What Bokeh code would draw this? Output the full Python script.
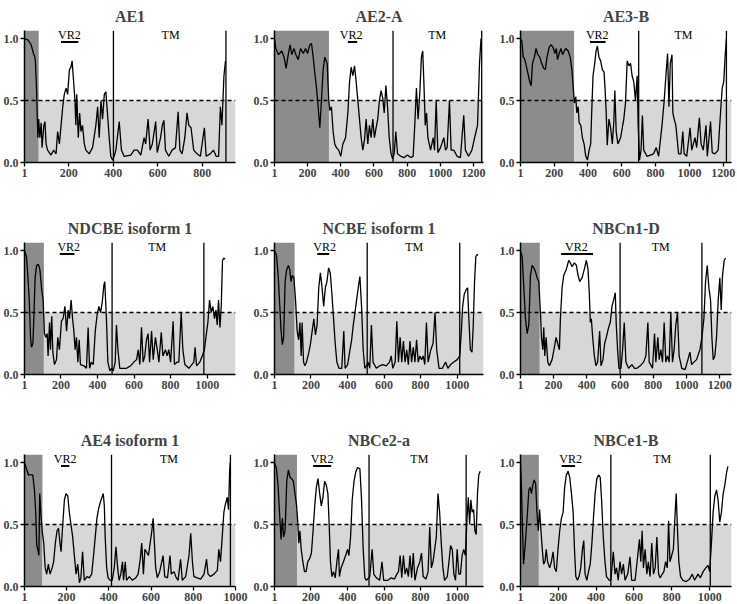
from bokeh.plotting import figure
from bokeh.layouts import column, row
from bokeh.models import Range1d, FixedTicker
from bokeh.embed import file_html
from bokeh.resources import INLINE
from bokeh.core.properties import value

# ---------------- data ----------------
titles = ["AE1", "AE2-A", "AE3-B", "NDCBE isoform 1", "NCBE isoform 1", "NBCn1-D",
          "AE4 isoform 1", "NBCe2-a", "NBCe1-B"]
x_max = [950, 1260, 1249, 1155, 1144, 1270, 1000, 1144, 1115]
nterm_end = [65, 329, 318, 107, 111, 117, 86, 124, 98]
tm_start = [401, 715, 700, 480, 508, 600, 413, 518, 478]
tm_end = [907, 1249, 1219, 982, 1014, 1092, 976, 1049, 1003]
vr2_start = [165, 443, 412, 194, 235, 245, 174, 212, 218]
vr2_end = [243, 499, 504, 274, 300, 437, 213, 311, 289]
vr2_label_x = [203, 463, 455, 243, 275, 337, 193, 261, 266]
tm_label_x = [658, 981, 965, 727, 765, 844, 685, 793, 749]
x_ticks = [
    [1, 200, 400, 600, 800],
    [1, 200, 400, 600, 800, 1000, 1200],
    [1, 200, 400, 600, 800, 1000, 1200],
    [1, 200, 400, 600, 800, 1000],
    [1, 200, 400, 600, 800, 1000],
    [1, 200, 400, 600, 800, 1000, 1200],
    [1, 200, 400, 600, 800, 1000],
    [1, 200, 400, 600, 800, 1000],
    [1, 200, 400, 600, 800, 1000],
]
y_ticks = [0, 0.5, 1.0]
threshold = 0.5

ae1_pos = [1, 16, 31, 41, 46, 50, 55, 58, 61, 65, 70, 76, 80, 88, 93, 98, 105, 120, 132, 143, 150, 158,
           173, 180, 188, 195, 203, 210, 215, 220, 228, 232, 236, 243, 249, 255, 262, 270, 277, 292, 307,
           322, 330, 337, 345, 352, 360, 367, 374, 382, 389, 397, 404, 412, 427, 437, 449, 479, 494, 509,
           524, 539, 546, 557, 566, 576, 591, 598, 613, 621, 628, 635, 650, 665, 680, 692, 700, 710, 722,
           732, 740, 750, 762, 777, 792, 810, 818, 836, 851, 863, 874, 882, 889, 898, 905]
ae1_val = [1.0, 0.99, 0.95, 0.88, 0.86, 0.82, 0.6, 0.4, 0.2, 0.35, 0.2, 0.32, 0.12, 0.3, 0.33, 0.15, 0.1,
           0.06, 0.1, 0.07, 0.25, 0.15, 0.45, 0.55, 0.6, 0.55, 0.75, 0.77, 0.82, 0.7, 0.5, 0.3, 0.55, 0.2,
           0.4, 0.25, 0.3, 0.15, 0.1, 0.07, 0.12, 0.3, 0.45, 0.2, 0.5, 0.35, 0.55, 0.57, 0.4, 0.2, 0.05,
           0.02, 0.05, 0.1, 0.33, 0.1, 0.05, 0.06, 0.1, 0.1, 0.06, 0.2, 0.15, 0.35, 0.1, 0.15, 0.33, 0.08,
           0.2, 0.3, 0.34, 0.1, 0.05, 0.1, 0.12, 0.41, 0.1, 0.07, 0.2, 0.4, 0.3, 0.28, 0.1, 0.07, 0.05,
           0.28, 0.05, 0.07, 0.1, 0.05, 0.05, 0.45, 0.3, 0.7, 0.82]

ae2_pos = [1, 9, 25, 45, 59, 71, 85, 95, 105, 118, 130, 144, 158, 174, 188, 200, 214, 224, 234, 244, 254,
           264, 274, 284, 294, 304, 318, 328, 334, 344, 354, 364, 374, 388, 400, 413, 429, 443, 453, 463,
           473, 483, 493, 503, 513, 523, 533, 543, 553, 563, 573, 583, 593, 603, 613, 623, 633, 643, 653,
           662, 672, 682, 692, 702, 712, 722, 732, 742, 762, 782, 802, 822, 836, 846, 856, 866, 876, 886,
           894, 902, 909, 917, 925, 941, 957, 965, 975, 985, 1001, 1021, 1031, 1041, 1055, 1065, 1081,
           1101, 1121, 1141, 1151, 1170, 1190, 1210, 1224, 1236, 1245]
ae2_val = [1.0, 0.92, 0.87, 0.9, 0.85, 0.76, 0.88, 0.95, 0.87, 0.92, 0.87, 0.83, 0.92, 0.88, 0.92, 0.88,
           0.95, 0.96, 0.85, 0.72, 0.6, 0.45, 0.28, 0.5, 0.75, 0.85, 0.8, 0.5, 0.42, 0.45, 0.25, 0.15, 0.12,
           0.1, 0.05, 0.15, 0.2, 0.4, 0.65, 0.77, 0.7, 0.78, 0.65, 0.5, 0.35, 0.2, 0.1, 0.18, 0.35, 0.15,
           0.3, 0.2, 0.35, 0.2, 0.28, 0.35, 0.5, 0.58, 0.52, 0.4, 0.62, 0.45, 0.2, 0.08, 0.03, 0.07, 0.25,
           0.07, 0.05, 0.04, 0.06, 0.04, 0.05, 0.3, 0.6, 0.35, 0.55, 0.85, 0.9, 0.6, 0.3, 0.4, 0.2, 0.1,
           0.2, 0.1, 0.5, 0.08, 0.12, 0.2, 0.1, 0.12, 0.5, 0.1, 0.1, 0.05, 0.04, 0.38, 0.1, 0.05, 0.1,
           0.22, 0.3, 0.8, 1.0]

ae3_pos = [1, 9, 17, 24, 32, 40, 48, 56, 64, 72, 83, 93, 103, 115, 126, 138, 148, 158, 171, 181, 193, 205,
           213, 220, 230, 240, 250, 260, 269, 283, 295, 305, 313, 320, 328, 334, 342, 348, 358, 367, 377,
           387, 397, 407, 416, 422, 430, 440, 448, 456, 465, 475, 485, 495, 501, 508, 514, 524, 534, 544,
           553, 559, 567, 577, 593, 612, 622, 632, 642, 652, 661, 671, 681, 691, 697, 705, 714, 722, 730,
           749, 769, 788, 804, 818, 838, 851, 861, 871, 879, 887, 897, 902, 910, 920, 936, 950, 961, 969,
           984, 1004, 1014, 1033, 1043, 1059, 1069, 1082, 1098, 1106, 1125, 1135, 1151, 1170, 1184, 1194,
           1203, 1211, 1219]
ae3_val = [1.0, 0.98, 0.85, 0.84, 0.8, 0.75, 0.7, 0.65, 0.62, 0.8, 0.85, 0.92, 0.87, 0.85, 0.8, 0.76, 0.75,
           0.85, 0.93, 0.95, 0.93, 0.88, 0.92, 0.83, 0.88, 0.92, 0.87, 0.9, 0.92, 0.9, 0.85, 0.75, 0.6,
           0.48, 0.53, 0.4, 0.45, 0.32, 0.3, 0.2, 0.15, 0.05, 0.02, 0.1, 0.15, 0.4, 0.7, 0.8, 0.9, 0.94,
           0.85, 0.82, 0.75, 0.73, 0.6, 0.4, 0.14, 0.35, 0.28, 0.15, 0.33, 0.58, 0.25, 0.15, 0.2, 0.35, 0.48,
           0.82, 0.78, 0.8, 0.7, 0.65, 0.5, 0.7, 0.3, 0.02, 0.1, 0.38, 0.1, 0.05, 0.06, 0.07, 0.12, 0.05,
           0.3, 0.5, 0.7, 0.88, 0.45, 0.8, 0.87, 0.4, 0.35, 0.3, 0.07, 0.07, 0.25, 0.07, 0.05, 0.28, 0.1,
           0.2, 0.12, 0.36, 0.15, 0.1, 0.3, 0.05, 0.33, 0.08, 0.07, 0.1, 0.4, 0.6, 0.65, 0.85, 1.0]

ndcbe_pos = [1, 12, 19, 27, 34, 39, 47, 52, 59, 67, 76, 85, 94, 103, 110, 118, 125, 130, 138, 143, 150, 156,
             165, 176, 183, 192, 203, 212, 222, 231, 240, 247, 256, 264, 271, 278, 285, 293, 300, 307, 326,
             340, 349, 357, 366, 377, 388, 398, 408, 417, 426, 435, 440, 449, 457, 468, 477, 486, 497, 504,
             512, 522, 541, 559, 581, 599, 614, 623, 632, 641, 650, 659, 668, 677, 685, 696, 705, 717, 727,
             736, 749, 758, 772, 781, 790, 800, 814, 821, 836, 845, 858, 867, 878, 900, 927, 934, 942, 960,
             973, 985, 995, 1004, 1013, 1022, 1031, 1040, 1048, 1055, 1062, 1070, 1077, 1084, 1091, 1097]
ndcbe_val = [1.0, 0.95, 0.8, 0.6, 0.3, 0.22, 0.25, 0.45, 0.78, 0.88, 0.89, 0.85, 0.7, 0.6, 0.33, 0.3, 0.33,
             0.15, 0.42, 0.2, 0.47, 0.18, 0.08, 0.12, 0.3, 0.2, 0.43, 0.45, 0.55, 0.35, 0.52, 0.45, 0.6,
             0.45, 0.35, 0.2, 0.3, 0.1, 0.28, 0.08, 0.07, 0.05, 0.38, 0.05, 0.1, 0.08, 0.35, 0.48, 0.55, 0.5,
             0.58, 0.72, 0.75, 0.45, 0.1, 0.03, 0.05, 0.03, 0.1, 0.4, 0.2, 0.05, 0.05, 0.05, 0.07, 0.1, 0.12,
             0.2, 0.08, 0.38, 0.1, 0.15, 0.28, 0.33, 0.1, 0.35, 0.12, 0.3, 0.2, 0.1, 0.34, 0.15, 0.2, 0.15,
             0.2, 0.1, 0.43, 0.08, 0.1, 0.1, 0.5, 0.2, 0.08, 0.05, 0.1, 0.22, 0.07, 0.1, 0.15, 0.2, 0.32,
             0.42, 0.6, 0.5, 0.55, 0.45, 0.52, 0.4, 0.6, 0.38, 0.55, 0.92, 0.94, 0.93]

ncbe_pos = [1, 12, 21, 30, 37, 44, 51, 59, 68, 77, 84, 91, 98, 107, 116, 125, 133, 140, 147, 152, 160, 167,
            176, 189, 198, 207, 216, 225, 234, 243, 252, 261, 270, 279, 288, 297, 306, 315, 324, 333, 342,
            354, 369, 380, 387, 401, 414, 423, 432, 441, 450, 459, 468, 477, 486, 495, 504, 513, 522, 531,
            540, 558, 576, 594, 612, 630, 639, 648, 661, 670, 679, 688, 697, 706, 715, 724, 733, 742, 751,
            760, 769, 778, 787, 796, 805, 814, 823, 832, 841, 856, 868, 879, 888, 901, 919, 937, 949, 964,
            982, 1000, 1014, 1023, 1030, 1039, 1048, 1057, 1064, 1072, 1081, 1088, 1095, 1102, 1110, 1113]
ncbe_val = [1.0, 0.96, 0.8, 0.55, 0.35, 0.24, 0.3, 0.75, 0.85, 0.88, 0.85, 0.75, 0.8, 0.78, 0.6, 0.35, 0.28,
            0.42, 0.15, 0.42, 0.1, 0.07, 0.1, 0.18, 0.25, 0.35, 0.45, 0.32, 0.4, 0.7, 0.82, 0.7, 0.55, 0.7,
            0.75, 0.86, 0.82, 0.65, 0.45, 0.25, 0.1, 0.05, 0.05, 0.35, 0.05, 0.08, 0.2, 0.28, 0.4, 0.5, 0.6,
            0.7, 0.79, 0.55, 0.2, 0.05, 0.07, 0.1, 0.05, 0.4, 0.1, 0.05, 0.07, 0.08, 0.07, 0.1, 0.15, 0.05,
            0.1, 0.43, 0.1, 0.3, 0.1, 0.27, 0.1, 0.2, 0.08, 0.27, 0.1, 0.22, 0.1, 0.28, 0.1, 0.15, 0.12,
            0.15, 0.08, 0.42, 0.1, 0.2, 0.25, 0.5, 0.2, 0.05, 0.05, 0.1, 0.05, 0.08, 0.1, 0.12, 0.15, 0.35,
            0.55, 0.65, 0.68, 0.7, 0.45, 0.2, 0.18, 0.4, 0.75, 0.95, 0.97, 0.96]

nbcn1_pos = [1, 11, 21, 31, 41, 51, 61, 71, 81, 91, 101, 111, 121, 127, 135, 141, 147, 155, 165, 175, 191,
             205, 215, 225, 235, 241, 251, 261, 277, 291, 301, 311, 325, 337, 347, 357, 371, 385, 397, 407,
             415, 421, 427, 435, 445, 455, 465, 477, 485, 497, 507, 517, 531, 541, 551, 561, 571, 577, 585,
             593, 605, 615, 625, 635, 651, 671, 687, 701, 721, 741, 755, 767, 775, 795, 807, 815, 827, 835,
             845, 855, 865, 875, 885, 895, 905, 915, 925, 935, 945, 955, 971, 991, 1004, 1020, 1030, 1044,
             1060, 1080, 1092, 1104, 1114, 1124, 1134, 1144, 1152, 1160, 1170, 1180, 1190, 1200, 1208, 1216,
             1226, 1234]
nbcn1_val = [1.0, 0.95, 0.7, 0.45, 0.33, 0.4, 0.8, 0.88, 0.86, 0.83, 0.78, 0.75, 0.5, 0.3, 0.2, 0.38, 0.15,
             0.3, 0.1, 0.07, 0.12, 0.22, 0.3, 0.25, 0.2, 0.45, 0.7, 0.8, 0.85, 0.92, 0.9, 0.87, 0.9, 0.88,
             0.8, 0.75, 0.78, 0.85, 0.92, 0.85, 0.65, 0.42, 0.45, 0.3, 0.15, 0.07, 0.1, 0.35, 0.07, 0.12,
             0.25, 0.3, 0.38, 0.42, 0.55, 0.6, 0.66, 0.4, 0.2, 0.05, 0.05, 0.2, 0.42, 0.1, 0.05, 0.08, 0.05,
             0.05, 0.07, 0.1, 0.15, 0.42, 0.1, 0.05, 0.33, 0.1, 0.3, 0.12, 0.2, 0.1, 0.42, 0.1, 0.15, 0.1,
             0.5, 0.1, 0.2, 0.4, 0.5, 0.15, 0.05, 0.04, 0.1, 0.18, 0.08, 0.1, 0.12, 0.2, 0.3, 0.45, 0.75,
             0.88, 0.7, 0.6, 0.3, 0.12, 0.15, 0.3, 0.6, 0.78, 0.52, 0.8, 0.92, 0.94]

ae4_pos = [1, 10, 20, 29, 40, 48, 54, 59, 64, 69, 73, 80, 86, 92, 99, 106, 114, 122, 132, 139, 147, 155, 162,
           169, 174, 182, 190, 198, 206, 213, 221, 229, 237, 245, 253, 261, 268, 276, 284, 297, 308, 319, 328,
           336, 344, 352, 360, 368, 374, 379, 383, 390, 397, 407, 416, 426, 434, 442, 449, 457, 465, 470,
           478, 484, 497, 512, 528, 539, 549, 556, 564, 571, 578, 588, 596, 604, 610, 616, 622, 630, 641,
           651, 657, 665, 678, 690, 696, 709, 717, 728, 740, 748, 764, 780, 788, 796, 803, 819, 835, 851,
           863, 870, 882, 898, 914, 921, 929, 937, 945, 953, 961, 967, 972, 975]
ae4_val = [1.0, 0.95, 0.9, 0.9, 0.9, 0.78, 0.6, 0.33, 0.3, 0.25, 0.75, 0.55, 0.43, 0.35, 0.15, 0.1, 0.18, 0.1,
           0.15, 0.2, 0.35, 0.45, 0.47, 0.35, 0.28, 0.5, 0.7, 0.75, 0.73, 0.6, 0.5, 0.4, 0.25, 0.1, 0.18,
           0.03, 0.07, 0.28, 0.05, 0.08, 0.07, 0.1, 0.25, 0.4, 0.55, 0.63, 0.68, 0.72, 0.75, 0.65, 0.4, 0.15,
           0.07, 0.05, 0.05, 0.15, 0.32, 0.15, 0.05, 0.1, 0.2, 0.05, 0.2, 0.05, 0.08, 0.05, 0.07, 0.1, 0.22,
           0.35, 0.1, 0.3, 0.28, 0.25, 0.35, 0.45, 0.55, 0.35, 0.15, 0.07, 0.12, 0.2, 0.25, 0.08, 0.07, 0.25,
           0.1, 0.12, 0.08, 0.05, 0.22, 0.05, 0.08, 0.25, 0.43, 0.2, 0.08, 0.07, 0.06, 0.1, 0.22, 0.1, 0.08,
           0.1, 0.13, 0.3, 0.2, 0.4, 0.6, 0.67, 0.72, 0.62, 0.92, 1.0]

nbce2_pos = [1, 12, 21, 30, 37, 44, 51, 59, 68, 77, 86, 95, 104, 113, 122, 129, 134, 140, 147, 156, 165, 174,
             183, 192, 203, 212, 221, 230, 239, 248, 257, 266, 275, 284, 293, 300, 307, 315, 324, 333, 342,
             351, 356, 365, 378, 390, 401, 408, 417, 426, 436, 445, 455, 468, 477, 486, 495, 504, 522, 535,
             544, 558, 576, 589, 598, 621, 639, 657, 670, 679, 688, 697, 706, 715, 724, 733, 742, 751, 760,
             769, 783, 796, 805, 814, 829, 841, 850, 859, 868, 877, 886, 895, 904, 913, 922, 931, 946, 955,
             964, 973, 982, 991, 1000, 1009, 1018, 1027, 1036, 1045, 1054, 1061, 1068, 1075, 1082, 1090,
             1097, 1104, 1111, 1118, 1126]
nbce2_val = [1.0, 0.95, 0.8, 0.55, 0.38, 0.55, 0.4, 0.45, 0.85, 0.94, 0.88, 0.87, 0.85, 0.75, 0.65, 0.5,
             0.35, 0.45, 0.3, 0.2, 0.12, 0.12, 0.2, 0.22, 0.27, 0.45, 0.65, 0.8, 0.87, 0.75, 0.65, 0.72, 0.85,
             0.82, 0.75, 0.5, 0.2, 0.08, 0.12, 0.07, 0.2, 0.3, 0.08, 0.15, 0.2, 0.25, 0.3, 0.25, 0.4, 0.7,
             0.85, 0.92, 0.96, 0.95, 0.7, 0.3, 0.07, 0.05, 0.08, 0.3, 0.1, 0.07, 0.05, 0.2, 0.05, 0.05, 0.07,
             0.06, 0.1, 0.12, 0.25, 0.07, 0.25, 0.1, 0.15, 0.08, 0.25, 0.07, 0.27, 0.05, 0.15, 0.2, 0.27,
             0.08, 0.06, 0.12, 0.48, 0.15, 0.2, 0.3, 0.4, 0.75, 0.6, 0.35, 0.15, 0.05, 0.08, 0.2, 0.33, 0.3,
             0.1, 0.05, 0.3, 0.1, 0.1, 0.25, 0.3, 0.25, 0.55, 0.72, 0.5, 0.7, 0.6, 0.62, 0.45, 0.42, 0.75,
             0.9, 0.93]

nbce1_pos = [1, 6, 12, 17, 24, 31, 38, 45, 52, 59, 66, 73, 81, 88, 95, 102, 109, 116, 123, 130, 137, 144,
             155, 164, 173, 181, 190, 199, 208, 217, 226, 234, 243, 252, 261, 270, 279, 286, 293, 302, 310,
             319, 328, 335, 342, 351, 360, 369, 378, 386, 395, 404, 413, 422, 429, 438, 447, 455, 470, 478,
             491, 500, 508, 517, 526, 535, 544, 553, 567, 579, 588, 606, 620, 629, 636, 643, 650, 659, 668,
             676, 685, 694, 703, 712, 721, 730, 738, 749, 758, 767, 776, 783, 790, 799, 808, 816, 823, 830,
             837, 846, 859, 876, 894, 908, 920, 938, 951, 965, 979, 991, 1000, 1009, 1018, 1027, 1036, 1044,
             1053, 1062, 1071, 1080, 1089, 1096]
nbce1_val = [1.0, 0.8, 0.45, 0.18, 0.3, 0.45, 0.6, 0.78, 0.8, 0.75, 0.82, 0.86, 0.83, 0.6, 0.45, 0.62, 0.45,
             0.3, 0.18, 0.2, 0.3, 0.2, 0.15, 0.2, 0.28, 0.15, 0.12, 0.3, 0.45, 0.55, 0.6, 0.8, 0.9, 0.93,
             0.88, 0.75, 0.6, 0.3, 0.08, 0.05, 0.08, 0.15, 0.3, 0.37, 0.1, 0.05, 0.12, 0.18, 0.35, 0.55, 0.75,
             0.87, 0.9, 0.88, 0.7, 0.4, 0.2, 0.08, 0.05, 0.05, 0.28, 0.1, 0.15, 0.05, 0.2, 0.1, 0.18, 0.05,
             0.1, 0.24, 0.05, 0.05, 0.25, 0.38, 0.2, 0.45, 0.15, 0.3, 0.1, 0.2, 0.08, 0.35, 0.1, 0.15, 0.4,
             0.1, 0.07, 0.1, 0.12, 0.2, 0.15, 0.53, 0.2, 0.25, 0.3, 0.55, 0.75, 0.45, 0.2, 0.08, 0.05, 0.04,
             0.06, 0.1, 0.05, 0.1, 0.07, 0.12, 0.15, 0.17, 0.12, 0.35, 0.6, 0.73, 0.78, 0.7, 0.52, 0.6, 0.75,
             0.82, 0.92, 0.97]

positions = [ae1_pos, ae2_pos, ae3_pos, ndcbe_pos, ncbe_pos, nbcn1_pos, ae4_pos, nbce2_pos, nbce1_pos]
values = [ae1_val, ae2_val, ae3_val, ndcbe_val, ncbe_val, nbcn1_val, ae4_val, nbce2_val, nbce1_val]

# ---------------- style ----------------
Y_MAX = 1.065
DARK = "#8c8c8c"
LIGHT = "#d7d7d7"
SERIF = "Liberation Serif"

# page has no margin: lay panels out in absolute page pixels
col_w = [250, 246, 240]
col_bl = [23, 23, 23]
col_br = [15, 13, 5]
row_h = [212, 212, 179]
row_bb = [50, 50, 17]
BT = 29


def make_panel(i):
    r, c = divmod(i, 3)
    p = figure(width=col_w[c], height=row_h[r], output_backend="svg", toolbar_location=None,
               x_range=Range1d(1, x_max[i]), y_range=Range1d(0, Y_MAX),
               min_border_left=col_bl[c], min_border_right=col_br[c],
               min_border_top=BT, min_border_bottom=row_bb[r])
    p.outline_line_color = None
    p.grid.visible = False
    p.background_fill_color = "white"

    p.quad(left=[1], right=[nterm_end[i]], bottom=[0], top=[Y_MAX], fill_color=DARK, line_color=None)
    p.quad(left=[nterm_end[i]], right=[x_max[i]], bottom=[0], top=[threshold], fill_color=LIGHT,
           line_color=None)
    p.segment(x0=[1], x1=[x_max[i]], y0=[threshold], y1=[threshold], line_color="black",
              line_width=1.4, line_dash="4 3")
    p.segment(x0=[tm_start[i], tm_end[i]], x1=[tm_start[i], tm_end[i]], y0=[0, 0], y1=[Y_MAX, Y_MAX],
              line_color="black", line_width=1.3)
    p.line(positions[i], values[i], line_color="black", line_width=1.3)
    p.segment(x0=[vr2_start[i]], x1=[vr2_end[i]], y0=[0.972], y1=[0.972], line_color="black",
              line_width=2)
    p.text(x=[vr2_label_x[i], tm_label_x[i]], y=[1.027, 1.027], text=["VR2", "TM"],
           text_font=value(SERIF), text_font_size="12px", text_align="center",
           text_baseline="alphabetic", text_color="black")

    p.title.text = titles[i]
    p.title.text_font = SERIF
    p.title.text_font_style = "bold"
    p.title.text_font_size = "16px"
    p.title.align = "center"
    p.title.standoff = 11
    p.title.offset = 0

    for ax in (p.xaxis[0], p.yaxis[0]):
        ax.axis_line_width = 1.5
        ax.major_tick_line_width = 1.3
        ax.major_tick_out = 4
        ax.major_tick_in = 0
        ax.minor_tick_out = 0
        ax.minor_tick_in = 0
        ax.major_label_text_font = SERIF
        ax.major_label_text_font_style = "bold"
        ax.major_label_text_font_size = "12px"
        ax.major_label_standoff = 2
    p.xaxis.ticker = FixedTicker(ticks=x_ticks[i], minor_ticks=[])
    p.yaxis.ticker = FixedTicker(ticks=y_ticks, minor_ticks=[])
    p.yaxis.major_label_overrides = {0: "0.0", 0.5: "0.5", 1: "1.0"}
    return p


panels = [make_panel(i) for i in range(9)]
layout = column(row(*panels[0:3]), row(*panels[3:6]), row(*panels[6:9]))

open("out.html", "w").write(file_html(layout, INLINE))
